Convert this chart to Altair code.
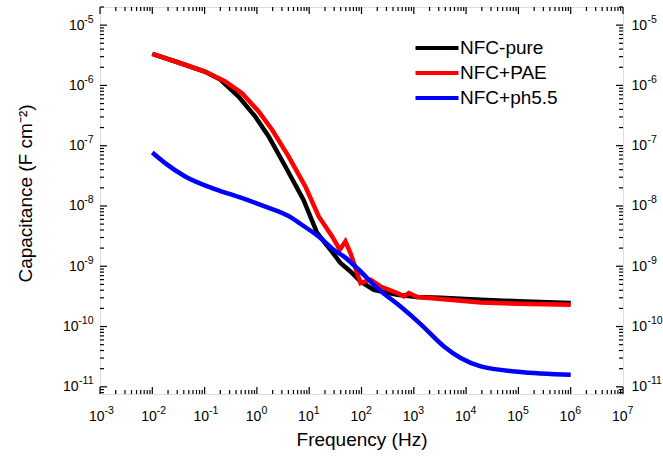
import json
import altair as alt
import pandas as pd

# ---------------- data ----------------
series_names = ["NFC-pure", "NFC+PAE", "NFC+ph5.5"]
series_colors = ["#000000", "#ff0000", "#0000ff"]

freq_pure = [0.01, 0.0316, 0.1, 0.2, 0.446, 0.93, 1.68, 3.5, 7.75, 14.2, 25.5,
             39.6, 61.5, 95.7, 172, 483, 1167, 3260, 19050, 1e5, 1e6]
cap_pure = [3.34e-6, 2.4e-6, 1.70e-6, 1.25e-6, 6.55e-7, 3.05e-7, 1.42e-7, 4.52e-8,
            1.27e-8, 3.56e-9, 1.88e-9, 1.13e-9, 8.2e-10, 5.6e-10, 4.07e-10,
            3.37e-10, 3.08e-10, 3.0e-10, 2.78e-10, 2.63e-10, 2.45e-10]

freq_pae = [0.01, 0.0316, 0.1026, 0.248, 0.519, 1.08, 1.95, 4.05, 8.45, 15.2, 27.5,
            38.4, 49.3, 61.5, 95.7, 149, 231, 483, 646, 805, 1167, 3260, 19050,
            1e5, 1e6]
cap_pae = [3.34e-6, 2.4e-6, 1.70e-6, 1.16e-6, 7.45e-7, 3.69e-7, 1.84e-7, 6.6e-8,
           2.1e-8, 6.7e-9, 3.12e-9, 1.88e-9, 2.58e-9, 1.66e-9, 5.26e-10, 5.97e-10,
           4.62e-10, 3.6e-10, 3.16e-10, 3.6e-10, 3.08e-10, 2.86e-10, 2.51e-10,
           2.39e-10, 2.30e-10]

freq_ph = [0.01, 0.0176, 0.0425, 0.138, 0.446, 1.25, 4.7, 6.78, 16.4, 29.4, 45.8,
           88.7, 200, 558, 1349, 3776, 7880, 19050, 1e5, 1e6]
cap_ph = [7.7e-8, 5.14e-8, 3.08e-8, 1.98e-8, 1.41e-8, 1.02e-8, 6.3e-9, 5.07e-9,
          2.94e-9, 1.88e-9, 1.46e-9, 8.75e-10, 4.35e-10, 2.15e-10, 1.1e-10,
          4.68e-11, 3.0e-11, 2.18e-11, 1.78e-11, 1.58e-11]

# tick labels: base "10" plus exponent
tick_base = "10"
x_label_exps = ["-3", "-2", "-1", "0", "1", "2", "3", "4", "5", "6", "7"]
y_label_exps = ["-11", "-10", "-9", "-8", "-7", "-6", "-5"]

x_title = "Frequency (Hz)"
y_title = "Capacitance (F cm⁻²)"

# ---------------- build table ----------------
frames = []
for name, f, c in [(series_names[0], freq_pure, cap_pure),
                   (series_names[1], freq_pae, cap_pae),
                   (series_names[2], freq_ph, cap_ph)]:
    frames.append(pd.DataFrame({"series": name, "freq": f, "cap": c}))
df = pd.concat(frames, ignore_index=True)

FONT = "Liberation Sans, Arial, Helvetica, sans-serif"
W, H = 523, 387
X_LO, X_HI = 1e-3, 1e7
Y_LO, Y_HI = 7.6e-12, 2e-5

x_major = [10.0 ** e for e in range(-3, 8)]
x_minor = [m * 10.0 ** e for e in range(-3, 7) for m in range(2, 10)]
y_major = [10.0 ** e for e in range(-11, -4)]
y_minor = [m * 10.0 ** e for e in range(-12, -4) for m in range(2, 10)]
y_minor = [v for v in y_minor if Y_LO <= v <= Y_HI * 1.0001]

EXP = "round(log(datum.value)/LN10)"
x_exp_expr = f"{json.dumps(x_label_exps)}[{EXP}+3]"
y_exp_expr = f"{json.dumps(y_label_exps)}[{EXP}+11]"
base_expr = json.dumps(tick_base)

BASE_FS = 14
EXP_FS = 10.5
TITLE_FS = 19

lab_common = dict(grid=False, domain=False, ticks=False, tickSize=0,
                  labelOverlap=False, labelFlush=False, labelFont=FONT,
                  labelColor="black")

x_axes = [
    alt.Axis(orient="bottom", values=x_major, labelExpr=base_expr, labelAlign="right",
             labelOffset=4, labelBaseline="top", labelPadding=15,
             labelFontSize=BASE_FS, title=x_title, titleFont=FONT,
             titleFontSize=TITLE_FS, titleFontWeight="normal", titleColor="black",
             titleY=51, titleBaseline="alphabetic", **lab_common),
    alt.Axis(orient="bottom", values=x_major, labelExpr=x_exp_expr, labelAlign="left",
             labelOffset=4, labelBaseline="top", labelPadding=11,
             labelFontSize=EXP_FS, title=None, **lab_common),
]

y_one = [v for v in y_major if v > 5e-10]
y_two = [v for v in y_major if v < 5e-10]

y_axes = [
    alt.Axis(orient="left", values=y_one, labelExpr=base_expr, labelAlign="right",
             labelBaseline="middle", labelPadding=16, labelFontSize=BASE_FS,
             title=y_title, titleFont=FONT, titleFontSize=TITLE_FS,
             titleFontWeight="normal", titleColor="black", titleX=-75,
             titleY=186, titleBaseline="middle", titleAngle=270, **lab_common),
    alt.Axis(orient="left", values=y_two, labelExpr=base_expr, labelAlign="right",
             labelBaseline="middle", labelPadding=22, labelFontSize=BASE_FS,
             title=None, **lab_common),
    alt.Axis(orient="left", values=y_major, labelExpr=y_exp_expr, labelAlign="right",
             labelBaseline="middle", labelPadding=7, labelOffset=-6,
             labelFontSize=EXP_FS, title=None, **lab_common),
    alt.Axis(orient="right", values=y_major, labelExpr=base_expr, labelAlign="left",
             labelBaseline="middle", labelPadding=8, labelFontSize=BASE_FS,
             title=None, **lab_common),
    alt.Axis(orient="right", values=y_major, labelExpr=y_exp_expr, labelAlign="left",
             labelBaseline="middle", labelPadding=24, labelOffset=-6,
             labelFontSize=EXP_FS, title=None, **lab_common),
]

x_scale = alt.Scale(type="log", domain=[X_LO, X_HI])
y_scale = alt.Scale(type="log", domain=[Y_LO, Y_HI])

legend = alt.Legend(
    title=None, orient="none", legendX=324, legendY=28,
    symbolType="M-2,0H2", symbolSize=462, symbolStrokeWidth=4,
    labelFontSize=19, labelFont=FONT, labelOffset=10, labelColor="black",
    padding=0, rowPadding=2,
)
color = alt.Color("series:N", scale=alt.Scale(domain=series_names, range=series_colors),
                  legend=legend)

base = alt.Chart(df)
n_layers = max(len(x_axes), len(y_axes))
layers = []
for i in range(n_layers):
    xa = x_axes[i] if i < len(x_axes) else None
    ya = y_axes[i] if i < len(y_axes) else None
    x_enc = alt.X("freq:Q", scale=x_scale, axis=xa)
    y_enc = alt.Y("cap:Q", scale=y_scale, axis=ya)
    if i < 3:
        name = series_names[i]
        lyr = base.transform_filter(alt.datum.series == name).mark_line(
            strokeWidth=4.5, interpolate="monotone" if i == 2 else "linear", clip=True
        ).encode(x=x_enc, y=y_enc, color=color)
    else:
        lyr = base.mark_line(strokeOpacity=0, clip=True).encode(
            x=x_enc, y=y_enc, detail="series:N")
    layers.append(lyr)

# inward tick marks on top and bottom edges (major 7 px, minor 4 px)
xmaj_df = pd.DataFrame({"xv": x_major})
xmin_df = pd.DataFrame({"xv": x_minor})


def xticks(d, y0, y1):
    return alt.Chart(d).mark_rule(color="black", strokeWidth=1.2).encode(
        x=alt.X("xv:Q", scale=x_scale, axis=None),
        y=alt.value(y0), y2=alt.value(y1))


layers += [
    xticks(xmaj_df, H, H - 7), xticks(xmin_df, H, H - 4),
    xticks(xmaj_df, 0, 7), xticks(xmin_df, 0, 4),
]

# inward tick marks on left and right edges, drawn as short line segments
px_per_decade = W / 10.0
f_major = 10 ** (7 / px_per_decade)
f_minor = 10 ** (4 / px_per_decade)
rows = []
k = 0
for vals, fac in [(y_major, f_major), (y_minor, f_minor)]:
    for v in vals:
        rows += [{"tid": k, "tx": X_LO, "ty": v}, {"tid": k, "tx": X_LO * fac, "ty": v}]
        k += 1
        rows += [{"tid": k, "tx": X_HI, "ty": v}, {"tid": k, "tx": X_HI / fac, "ty": v}]
        k += 1
yt_df = pd.DataFrame(rows)
layers.append(
    alt.Chart(yt_df).mark_line(color="black", strokeWidth=1.2).encode(
        x=alt.X("tx:Q", scale=x_scale, axis=None),
        y=alt.Y("ty:Q", scale=y_scale, axis=None),
        detail="tid:N",
    )
)

chart = alt.layer(*layers).resolve_axis(x="independent", y="independent").properties(
    width=W, height=H,
    autosize=alt.AutoSizeParams(type="none"),
    padding={"left": 100, "top": 7, "right": 40, "bottom": 63},
).configure_view(stroke="black", strokeWidth=1.5).configure(background="white")

chart.save("out.html", embed_options={"renderer": "svg", "actions": False})
